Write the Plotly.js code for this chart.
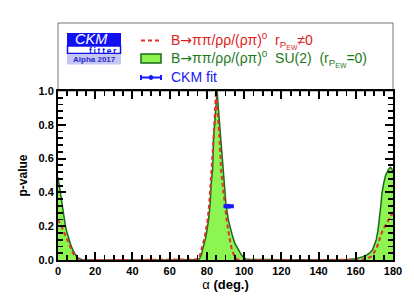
<!DOCTYPE html>
<html>
<head>
<meta charset="utf-8">
<script src="https://cdn.plot.ly/plotly-3.0.1.min.js"></script>
<style>html,body{margin:0;padding:0;background:#fff;}#plot{width:414px;height:303px;}</style>
</head>
<body>
<div id="plot"></div>
<script>
// ---- data ----
const su2Alpha = [0,1,2,3,4,5,6,7,8,9,10,11,12,13,15,20,40,60,70,74,75,76,77,77.7,78.5,79.5,80.9,81.8,82.3,83.1,83.6,84.5,85.0,85.5,86.3,87.2,88.0,88.6,89.2,90.2,91.5,92.5,93.8,95,96.8,98.5,100,101,103,106,110,120,130,140,150,156,160,162,164,166,167.5,169,170,171,172,172.5,173,173.6,174,174.5,175,176,176.5,177.5,178.6,179.3,180];
const su2P     = [0.49,0.41,0.33,0.26,0.20,0.155,0.115,0.085,0.058,0.036,0.020,0.010,0.005,0.002,0.001,0,0,0,0,0.001,0.003,0.006,0.03,0.061,0.10,0.14,0.238,0.337,0.45,0.54,0.72,0.84,0.93,1.0,0.88,0.75,0.62,0.53,0.45,0.337,0.238,0.19,0.14,0.10,0.061,0.03,0.012,0.006,0.004,0.003,0.002,0.001,0.001,0.001,0.002,0.003,0.007,0.012,0.02,0.03,0.042,0.06,0.085,0.12,0.18,0.22,0.28,0.337,0.39,0.435,0.455,0.50,0.515,0.535,0.549,0.54,0.523];

const ewAlpha = [0,1,2,3,4,5,6,7,8,9,10,11,12,14,40,74,75.5,76.3,77.2,78,78.9,80.4,81.3,82.0,82.5,83.2,84,84.5,84.9,85.8,86.8,87.6,88.6,89.3,90.6,92,93.4,94.3,95,96,97,99,140,160,163,165.6,168.3,170.9,172.7,174.5,177.2,179,180];
const ewP     = [0.24,0.22,0.195,0.17,0.145,0.115,0.088,0.063,0.042,0.027,0.013,0.004,0.001,0,0,0,0.004,0.03,0.061,0.10,0.14,0.238,0.337,0.44,0.533,0.65,0.80,0.90,1.0,0.87,0.72,0.533,0.435,0.337,0.238,0.14,0.061,0.035,0.02,0.006,0.002,0,0,0,0.002,0.006,0.021,0.06,0.12,0.179,0.228,0.268,0.27];

const fitAlpha = [91.7];
const fitP     = [0.318];
const fitErr   = [1.7];

// tick spacing (major / minor)
const xTickStep = [20, 5];
const yTickStep = [0.2, 0.04];

const ARROW = '<span style="font-family:DejaVu Sans">\u2192</span>';
const legendTexts = [
  "B" + ARROW + "\u03c0\u03c0/\u03c1\u03c1/(\u03c1\u03c0)<sup>0</sup>\u00a0\u00a0r<sub>P<sub>EW</sub></sub>\u22600",
  "B" + ARROW + "\u03c0\u03c0/\u03c1\u03c1/(\u03c1\u03c0)<sup>0</sup>\u00a0\u00a0SU(2)\u00a0\u00a0(r<sub>P<sub>EW</sub></sub>=0)",
  "CKM fit"
];

// ---- styling / layout helpers (pixel -> paper) ----
const L = 58, R = 21, T = 91, B = 43, W = 414, H = 303;
const PW = W - L - R, PH = H - T - B;
const px = v => (v - L) / PW;
const py = v => (H - B - v) / PH;

const GREEN_FILL = '#8cf552', GREEN_LINE = '#1a6b1a';
const RED = '#e03030', BLUE = '#1a1aff';
const FONT = 'Liberation Sans, Arial, Helvetica, sans-serif';

const traces = [
  {x: su2Alpha, y: su2P, type: 'scatter', mode: 'lines', fill: 'tozeroy',
   fillcolor: GREEN_FILL, line: {color: GREEN_LINE, width: 1.5}, hoverinfo: 'skip'},
  {x: ewAlpha, y: ewP, type: 'scatter', mode: 'lines',
   line: {color: RED, width: 2, dash: '4px,3px'}, hoverinfo: 'skip'},
  {x: fitAlpha, y: fitP, type: 'scatter', mode: 'markers',
   marker: {color: BLUE, size: 5},
   error_x: {type: 'data', array: fitErr, color: BLUE, thickness: 4, width: 2}, hoverinfo: 'skip'}
];

const shapes = [
  // legend frame
  {type: 'rect', xref: 'paper', yref: 'paper', x0: 0, x1: 1, y0: 1, y1: py(23),
   line: {color: '#777', width: 1}, fillcolor: 'rgba(0,0,0,0)', layer: 'below'},
  // logo
  {type: 'rect', xref: 'paper', yref: 'paper', x0: px(67), x1: px(121), y0: py(46), y1: py(33),
   line: {width: 0}, fillcolor: '#1010f0'},
  {type: 'rect', xref: 'paper', yref: 'paper', x0: px(67.5), x1: px(120.5), y0: py(53.5), y1: py(46),
   line: {color: '#1010f0', width: 1.5}, fillcolor: '#ffffff'},
  {type: 'rect', xref: 'paper', yref: 'paper', x0: px(67), x1: px(121), y0: py(64.5), y1: py(54),
   line: {width: 0}, fillcolor: '#c6c6f2'},
  // legend symbols
  {type: 'line', xref: 'paper', yref: 'paper', x0: px(141), x1: px(161), y0: py(40.5), y1: py(40.5),
   line: {color: RED, width: 2, dash: '4px,3px'}},
  {type: 'rect', xref: 'paper', yref: 'paper', x0: px(141), x1: px(161), y0: py(63), y1: py(54),
   line: {color: GREEN_LINE, width: 1.5}, fillcolor: GREEN_FILL},
  {type: 'line', xref: 'paper', yref: 'paper', x0: px(141), x1: px(161), y0: py(77.5), y1: py(77.5),
   line: {color: BLUE, width: 2}},
  {type: 'line', xref: 'paper', yref: 'paper', x0: px(141), x1: px(141), y0: py(75), y1: py(80),
   line: {color: BLUE, width: 2}},
  {type: 'line', xref: 'paper', yref: 'paper', x0: px(161), x1: px(161), y0: py(75), y1: py(80),
   line: {color: BLUE, width: 2}},
  {type: 'circle', xref: 'paper', yref: 'paper', x0: px(149), x1: px(153), y0: py(79.5), y1: py(75.5),
   line: {color: BLUE, width: 1}, fillcolor: BLUE}
];

const ann = (text, x, y, opts) => Object.assign({
  text, xref: 'paper', yref: 'paper', x: px(x), y: py(y), showarrow: false,
  xanchor: 'left', yanchor: 'middle', font: {family: FONT, size: 14}
}, opts || {});

const annotations = [
  ann('<i>CKM</i>', 91, 39.3, {xanchor: 'center', borderpad: 0, font: {family: FONT, size: 14.5, color: '#ffffff'}}),
  ann('f\u2009i\u2009t\u2009t\u2009e\u2009r', 103, 50.6, {xanchor: 'center', borderpad: 0, font: {family: FONT, size: 8.5, color: '#1010f0', weight: 'bold'}}),
  ann('Alpha 2017', 94, 59.5, {xanchor: 'center', borderpad: 0, font: {family: FONT, size: 8, color: '#2a2ad0', weight: 'bold'}}),
  ann(legendTexts[0], 169, 40, {font: {family: FONT, size: 14, color: '#dd1c1c'}}),
  ann(legendTexts[1], 169, 59, {font: {family: FONT, size: 14, color: '#1a7a1a'}}),
  ann(legendTexts[2], 169, 77.5, {font: {family: FONT, size: 14, color: '#2020ee'}})
];

const axisCommon = {
  showline: true, linecolor: '#000', linewidth: 2, mirror: 'allticks',
  ticks: 'inside', ticklen: 8, tickwidth: 2, tickcolor: '#000', tickmode: 'linear', tick0: 0,
  showgrid: false, zeroline: false, fixedrange: true,
  tickfont: {family: FONT, size: 11, color: '#000', weight: 'bold'}
};

const layout = {
  width: W, height: H,
  margin: {l: L, r: R, t: T, b: B, pad: 0},
  paper_bgcolor: '#fff', plot_bgcolor: '#fff',
  showlegend: false,
  xaxis: Object.assign({}, axisCommon, {
    range: [0, 180], dtick: xTickStep[0],
    minor: {dtick: xTickStep[1], ticklen: 5, tickwidth: 1.8, tickcolor: '#000', ticks: 'inside'},
    title: {text: '\u03b1 <b>(deg.)</b>', font: {family: FONT, size: 13, color: '#000'}, standoff: 4}
  }),
  yaxis: Object.assign({}, axisCommon, {
    range: [0, 1], dtick: yTickStep[0], tickformat: '.1f',
    minor: {dtick: yTickStep[1], ticklen: 5, tickwidth: 1.8, tickcolor: '#000', ticks: 'inside'},
    title: {text: 'p-value', font: {family: FONT, size: 12, color: '#000', weight: 'bold'}, standoff: 8}
  }),
  shapes, annotations
};

Plotly.newPlot('plot', traces, layout, {staticPlot: true, displayModeBar: false});
</script>
</body>
</html>
